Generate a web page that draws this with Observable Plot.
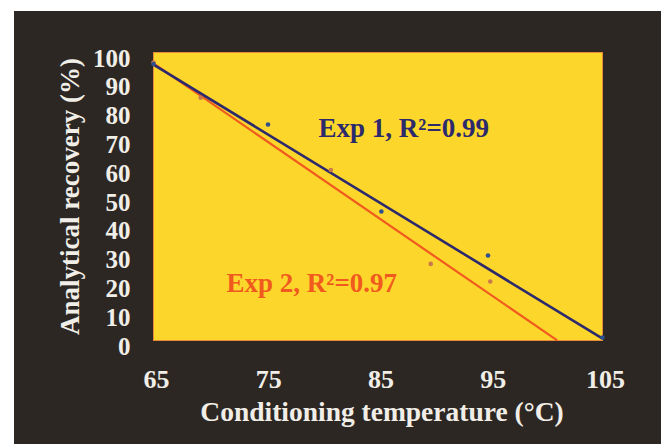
<!DOCTYPE html>
<html>
<head>
<meta charset="utf-8">
<script src="https://cdn.jsdelivr.net/npm/d3@7"></script>
<script src="https://cdn.jsdelivr.net/npm/@observablehq/plot@0.6"></script>
<style>
  html, body { margin: 0; padding: 0; background: #ffffff; }
  #chart { position: absolute; left: 14px; top: 11px; width: 647px; height: 433px; background: #2d2723; overflow: hidden; }
  #chart svg { display: block; }
</style>
</head>
<body>
<div id="chart"></div>
<script>
// Data
const exp1Temp = [65, 75.2, 85.3, 94.8, 105];
const exp1Rec  = [96, 75.0, 44.8, 29.5, 1];
const exp2Temp = [65, 69.2, 80.8, 89.7, 95.0];
const exp2Rec  = [96.5, 84.3, 59.2, 26.6, 20.5];
// Regression line end points
const fit1Temp = [65, 104.9];
const fit1Rec  = [95.8, 0.9];
const fit2Temp = [65, 100.9];
const fit2Rec  = [96.2, 0.2];
// Tick labels
const xTicks = [65, 75, 85, 95, 105];
const yTicks = [0, 10, 20, 30, 40, 50, 60, 70, 80, 90, 100];
const labels = ["Exp 1, R²=0.99", "Exp 2, R²=0.97"];

const exp1 = exp1Temp.map((t, i) => ({t, r: exp1Rec[i]}));
const exp2 = exp2Temp.map((t, i) => ({t, r: exp2Rec[i]}));
const fit1 = fit1Temp.map((t, i) => ({t, r: fit1Rec[i]}));
const fit2 = fit2Temp.map((t, i) => ({t, r: fit2Rec[i]}));

const serif = "'Liberation Serif', 'Times New Roman', serif";
const white = "#f1eee8";
const navy = "#2c2a6c";
const orange = "#f15a1e";

const plot = Plot.plot({
  width: 647,
  height: 433,
  marginLeft: 139,
  marginRight: 59,
  marginTop: 41,
  marginBottom: 104,
  style: { background: "transparent", fontFamily: serif },
  x: { domain: [65, 105] },
  y: { domain: [0, 100] },
  marks: [
    Plot.frame({ fill: "#fdd62b", stroke: "#e88a3a", strokeWidth: 1 }),
    Plot.axisX({ ticks: xTicks, tickSize: 0, tickPadding: 29, dx: 3, fill: white, fontSize: 26, fontWeight: "bold", label: null }),
    Plot.axisY({ ticks: yTicks, tickSize: 0, tickPadding: 23, dy: 6, fill: white, fontSize: 25, fontWeight: "bold", label: null }),
    Plot.line(fit2, { x: "t", y: "r", stroke: orange, strokeWidth: 2.2 }),
    Plot.line(fit1, { x: "t", y: "r", stroke: navy, strokeWidth: 2.6 }),
    Plot.dot(exp2, { x: "t", y: "r", r: 2.3, fill: "#c97a4c" }),
    Plot.dot(exp1, { x: "t", y: "r", r: 2.3, fill: "#2d4f8e" }),
    Plot.text([labels[0]], { x: 87.3, y: 73.6, text: d => d, fill: navy, fontSize: 27, fontWeight: "bold", fontFamily: serif }),
    Plot.text([labels[1]], { x: 79.1, y: 19.8, text: d => d, fill: orange, fontSize: 27, fontWeight: "bold", fontFamily: serif }),
    Plot.text(["Analytical recovery (%)"], { frameAnchor: "left", textAnchor: "middle", lineAnchor: "middle", dx: -83, rotate: -90, text: d => d, fill: white, fontSize: 27, fontWeight: "bold", fontFamily: serif }),
    Plot.text(["Conditioning temperature (°C)"], { frameAnchor: "bottom", textAnchor: "middle", lineAnchor: "middle", dx: 4, dy: 72, text: d => d, fill: white, fontSize: 27.5, fontWeight: "bold", fontFamily: serif })
  ]
});
document.getElementById("chart").appendChild(plot);
</script>
</body>
</html>
